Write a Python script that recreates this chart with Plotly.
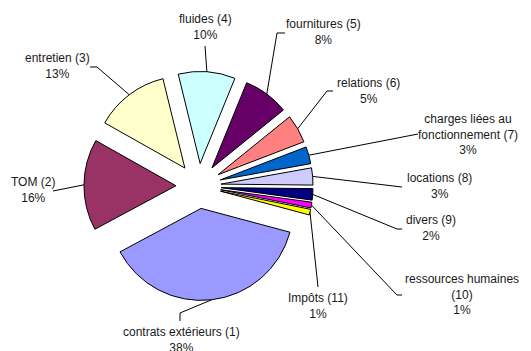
import math
import plotly.graph_objects as go

# ---- data ----
categories = ["contrats extérieurs (1)", "TOM (2)", "entretien (3)", "fluides (4)",
              "fournitures (5)", "relations (6)", "charges liées au<br>fonctionnement (7)",
              "locations (8)", "divers (9)", "ressources humaines<br>(10)", "Impôts (11)"]
percent = [38, 16, 13, 10, 8, 5, 3, 3, 2, 1, 1]
colors = ["#9999FF", "#993366", "#FFFFCC", "#CCFFFF", "#660066", "#FF8080",
          "#0066CC", "#CCCCFF", "#000080", "#FF00FF", "#FFFF00"]

# ---- layout constants (pixels) ----
W, H = 531, 351
CX, CY = 198.5, 186.0        # pie centre
R = 92.0                     # pie radius
PULL = 0.245                 # explosion fraction
ROT = 105                    # start angle, clockwise from 12 o'clock
R_OUT = R * (1 + PULL)

dom_x = [(CX - R_OUT) / W, (CX + R_OUT) / W]
dom_y = [1 - (CY + R_OUT) / H, 1 - (CY - R_OUT) / H]

# label text centres and leader-line start points (pixels)
label_pos = [(181, 340), (33, 189.5), (57, 66), (205, 27), (323, 32), (368, 91),
             (468, 134), (439, 186), (431, 228), (462, 294), (318, 306)]
leader_start = [[(180, 321), (180, 313)], [(53, 191)], [(90, 67), (97, 67)], [(205, 46)],
                [(285, 33), (277, 33)], [(333, 91), (327, 91)], [(418, 134)],
                [(402, 187)], [(402, 229), (397, 229)], [(402, 295), (397, 295)],
                [(318, 287)]]

fig = go.Figure(go.Pie(
    values=percent, labels=categories, sort=False, direction="clockwise",
    rotation=ROT, pull=[PULL] * len(percent),
    marker=dict(colors=colors, line=dict(color="black", width=1)),
    textinfo="none", hoverinfo="label+percent", domain=dict(x=dom_x, y=dom_y),
    showlegend=False,
))

def px2paper(x, y):
    return x / W, 1 - y / H

total = sum(percent)
cum = 0
shapes = []
annotations = []
for i, v in enumerate(percent):
    a0 = ROT + 360 * cum / total
    a1 = ROT + 360 * (cum + v) / total
    cum += v
    mid = math.radians((a0 + a1) / 2)
    tx = CX + R_OUT * math.sin(mid)
    ty = CY - R_OUT * math.cos(mid)
    pts = leader_start[i] + [(tx, ty)]
    path = "M " + " L ".join("%.4f,%.4f" % px2paper(x, y) for x, y in pts)
    shapes.append(dict(type="path", xref="paper", yref="paper", path=path,
                       line=dict(color="black", width=1)))
    lx, ly = px2paper(*label_pos[i])
    annotations.append(dict(
        x=lx, y=ly, xref="paper", yref="paper", xanchor="center", yanchor="middle",
        showarrow=False, text="%s<br>%d%%" % (categories[i], v), align="center",
        font=dict(family="Liberation Sans, Arial, sans-serif", size=12, color="#1a1a1a"),
    ))

fig.update_layout(
    width=W, height=H, margin=dict(l=0, r=0, t=0, b=0),
    paper_bgcolor="white", plot_bgcolor="white",
    shapes=shapes, annotations=annotations,
)
fig.write_html("out.html")
